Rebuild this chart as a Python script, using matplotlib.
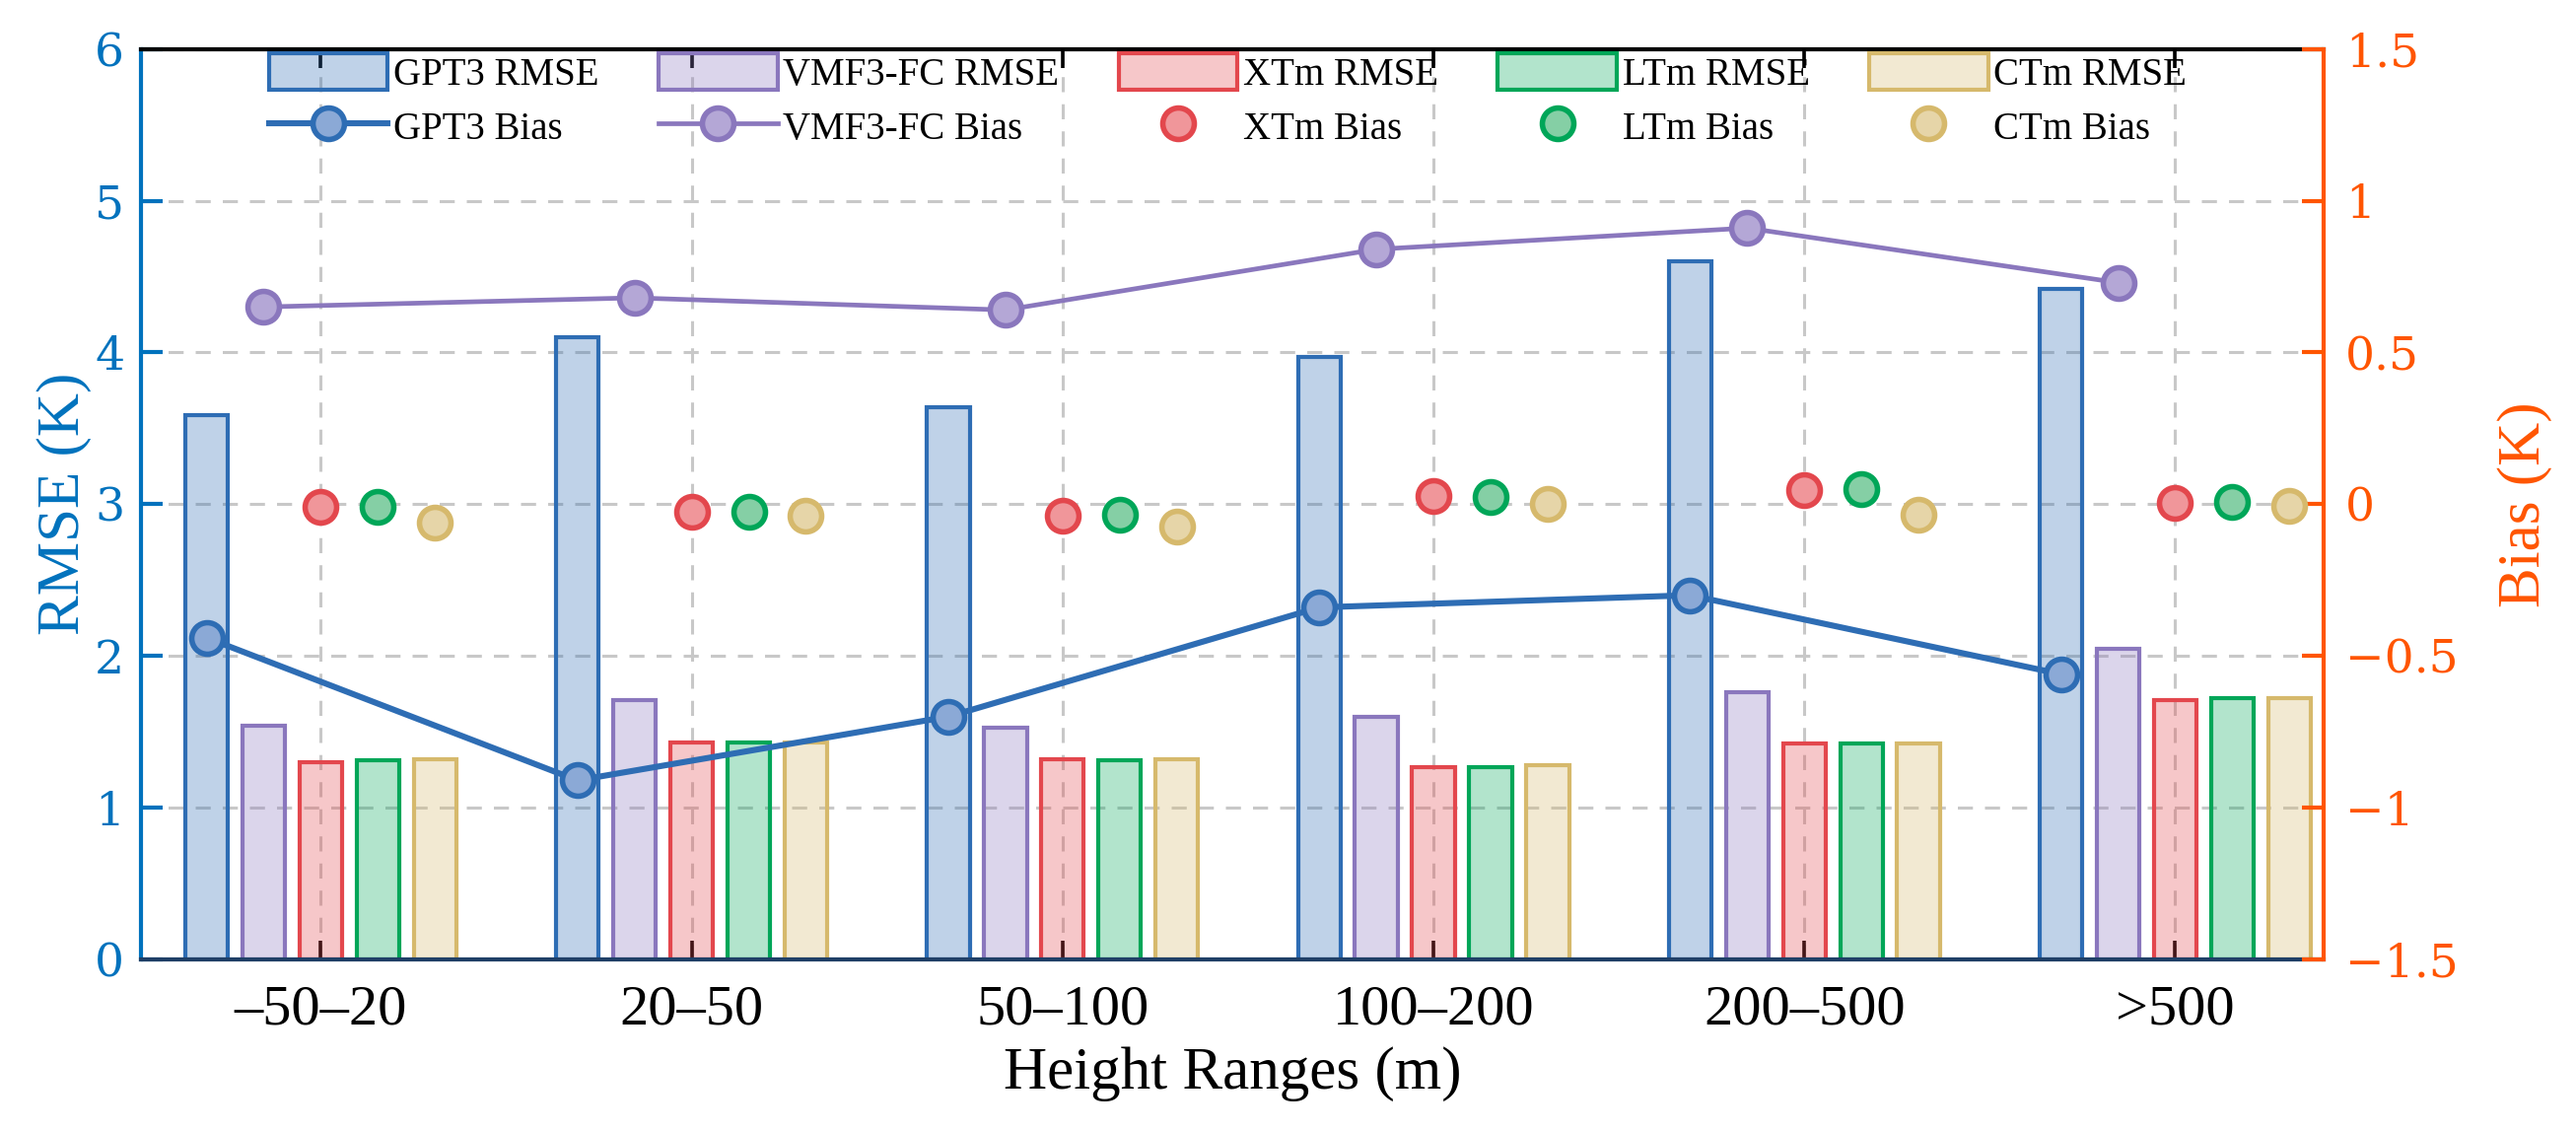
import numpy as np
import matplotlib.pyplot as plt
from matplotlib.colors import to_rgba

plt.rcParams['font.family'] = ['Liberation Serif', 'DejaVu Serif']

# Data
ranges = ['–50–20', '20–50', '50–100', '100–200', '200–500', '>500']
models = ['GPT3', 'VMF3-FC', 'XTm', 'LTm', 'CTm']

gpt3_rmse = [3.59, 4.10, 3.64, 3.97, 4.60, 4.42]
vmf3_rmse = [1.54, 1.71, 1.53, 1.60, 1.76, 2.05]
xtm_rmse = [1.30, 1.43, 1.32, 1.27, 1.42, 1.71]
ltm_rmse = [1.31, 1.43, 1.31, 1.27, 1.42, 1.72]
ctm_rmse = [1.32, 1.43, 1.32, 1.28, 1.42, 1.72]

gpt3_bias = [-0.44, -0.91, -0.70, -0.34, -0.30, -0.56]
vmf3_bias = [0.65, 0.68, 0.64, 0.84, 0.91, 0.73]
xtm_bias = [-0.01, -0.025, -0.037, 0.028, 0.045, 0.005]
ltm_bias = [-0.01, -0.025, -0.035, 0.025, 0.05, 0.008]
ctm_bias = [-0.06, -0.037, -0.073, 0.002, -0.035, -0.004]

rmse = [gpt3_rmse, vmf3_rmse, xtm_rmse, ltm_rmse, ctm_rmse]
bias = [gpt3_bias, vmf3_bias, xtm_bias, ltm_bias, ctm_bias]

edge_cols = ['#2E6DB4', '#8A77BD', '#E3474D', '#00A658', '#D6B96C']
mark_cols = ['#8BA9D6', '#B4A7D6', '#F0969A', '#85CFA5', '#E6D5A8']
left_col = '#0072BD'
right_col = '#FF5500'

x = np.arange(1, len(ranges) + 1)
step = 0.154
bw = 0.115

fig = plt.figure(figsize=(13.065, 5.735), dpi=200)
ax = fig.add_axes([0.0547, 0.1517, 0.902 - 0.0547, 0.9567 - 0.1517])
ax2 = ax.twinx()

bar_handles = []
for i, m in enumerate(models):
    h = ax.bar(x + (i - 2) * step, rmse[i], width=bw,
               facecolor=to_rgba(edge_cols[i], 0.3), edgecolor=edge_cols[i],
               linewidth=1.5, label=m + ' RMSE', zorder=2)
    bar_handles.append(h)

line_handles = []
for i, m in enumerate(models):
    ls = '-' if i < 2 else 'none'
    lw = 2.2 if i == 0 else 1.7
    h, = ax2.plot(x + (i - 2) * step, bias[i], linestyle=ls, color=edge_cols[i],
                  linewidth=lw, marker='o', markersize=11.5,
                  markerfacecolor=mark_cols[i], markeredgecolor=edge_cols[i],
                  markeredgewidth=2.0, label=m + ' Bias', zorder=3)
    line_handles.append(h)

ax.set_xlim(0.515, 6.4)
ax.set_ylim(0, 6)
ax2.set_ylim(-1.5, 1.5)
ax.set_xticks(x)
ax.set_xticklabels(ranges, fontsize=21)
ax.set_yticks(range(0, 7))
ax2.set_yticks([-1.5, -1, -0.5, 0, 0.5, 1, 1.5])
ax2.set_yticklabels(['−1.5', '−1', '−0.5', '0', '0.5', '1', '1.5'])

for lab in ax.get_yticklabels() + ax2.get_yticklabels():
    lab.set_family('DejaVu Serif')
    lab.set_fontsize(17)

ax.grid(True, color='#c8c8c8', linestyle=(0, (5, 4)), linewidth=1.1)
ax.set_axisbelow(True)

ax.tick_params(axis='x', direction='in', top=True, length=7, width=1.3,
               colors='black', pad=9)
ax.tick_params(axis='y', direction='in', length=8, width=1.5,
               colors=left_col, pad=6)
ax2.tick_params(axis='y', direction='in', length=8, width=1.5,
                colors=right_col, pad=8)

for s in ['left', 'right', 'top', 'bottom']:
    ax.spines[s].set_linewidth(1.5)
    ax2.spines[s].set_linewidth(1.5)
ax.spines['left'].set_color(left_col)
ax.spines['top'].set_color('black')
ax.spines['bottom'].set_color('#1f3f66')
ax.spines['right'].set_visible(False)
ax2.spines['right'].set_color(right_col)
ax2.spines['left'].set_visible(False)
ax2.spines['top'].set_visible(False)
ax2.spines['bottom'].set_visible(False)

ax.set_xlabel('Height Ranges (m)', fontsize=22, labelpad=4)
ax.set_ylabel('RMSE (K)', fontsize=22, color=left_col, labelpad=1)
ax2.set_ylabel('Bias (K)', fontsize=22, color=right_col, labelpad=14)

handles = []
for b, l in zip(bar_handles, line_handles):
    handles += [b, l]
leg = ax2.legend(handles=handles, ncol=5, loc='upper center',
                 bbox_to_anchor=(0.498, 1.012), frameon=False, fontsize=14,
                 handlelength=3.1, handleheight=1.1, handletextpad=0.15,
                 columnspacing=1.55, labelspacing=0.36, borderaxespad=0)

fig.savefig('out.png', dpi=200)
